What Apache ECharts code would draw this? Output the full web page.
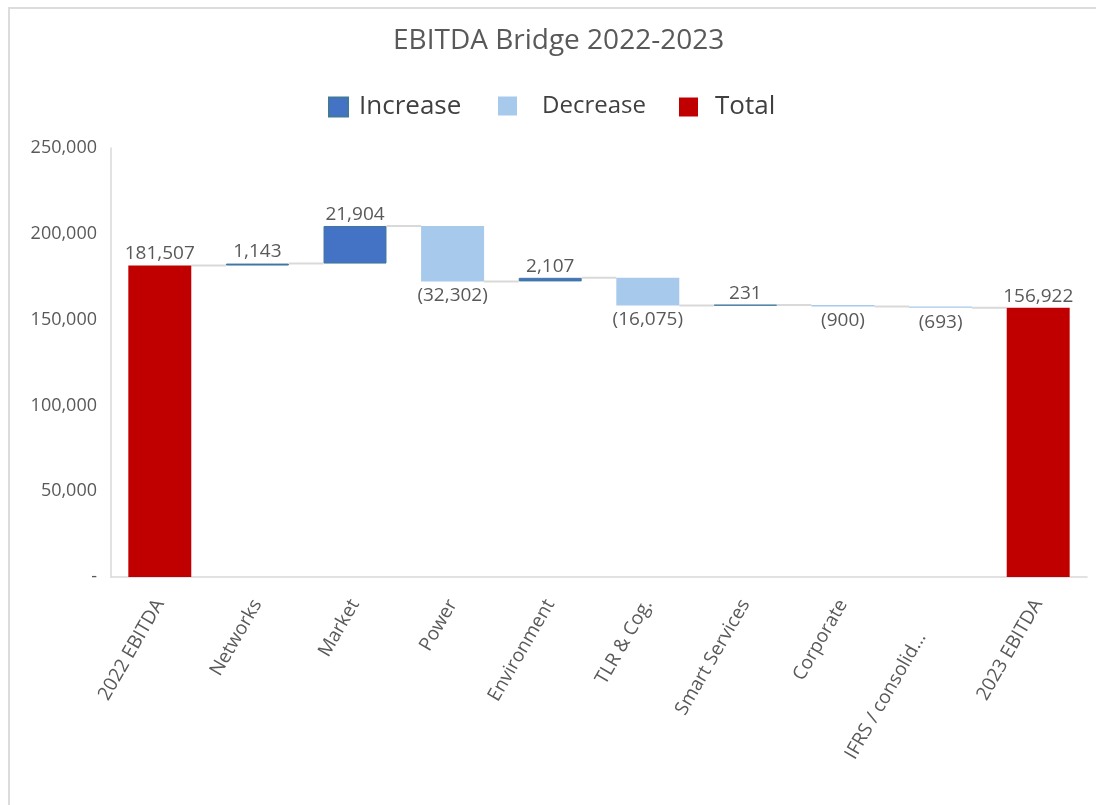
<!DOCTYPE html>
<html>
<head>
<meta charset="utf-8">
<script src="https://cdn.jsdelivr.net/npm/echarts@6/dist/echarts.min.js"></script>
<style>
  html, body { margin: 0; padding: 0; background: #ffffff; overflow: hidden; }
  #frame { position: absolute; left: 8px; top: 7px; width: 1200px; height: 900px;
           border: 2px solid #dcdcdc; box-sizing: border-box; }
  #chart { position: absolute; left: 0; top: 0; width: 1096px; height: 805px; }
</style>
</head>
<body>
<div id="frame"></div>
<div id="chart"></div>
<script>
// Bridge steps: first and last are totals, the rest are changes
const categories = ['2022 EBITDA', 'Networks', 'Market', 'Power', 'Environment',
  'TLR & Cog.', 'Smart Services', 'Corporate', 'IFRS / consolid...', '2023 EBITDA'];
const values = [181507, 1143, 21904, -32302, 2107, -16075, 231, -900, -693, 156922];
const isTotal = [true, false, false, false, false, false, false, false, false, true];
const yTicks = { min: 0, max: 250000, step: 50000 };
const legendNames = ['Increase', 'Decrease', 'Total'];

const FONT = '"Open Sans", "Noto Sans", sans-serif';
const TEXT = '#595959';

// Build the stacked pieces: invisible base + visible delta/total
const base = [], incr = [], decr = [], total = [], connectors = [];
let running = 0;
values.forEach((v, i) => {
  if (isTotal[i]) {
    base.push(0); incr.push('-'); decr.push('-'); total.push(v);
    running = v;
  } else if (v >= 0) {
    base.push(running); incr.push(v); decr.push('-'); total.push('-');
    running += v;
  } else {
    base.push(running + v); incr.push('-'); decr.push(-v); total.push('-');
    running += v;
  }
  if (i < values.length - 1) connectors.push([i, running]);
});

const fmt = n => Math.round(n).toLocaleString('en-US');
const BAR_FRAC = 0.645;

// The truncated label sits a little further down its slant
const axisItems = categories.map(c => (
  c.endsWith('...') ? { value: c, textStyle: { padding: [0, 38, 0, 0] } } : c
));

// One legend block per entry so each can sit at its own spot
const legendSpots = [
  { left: 328, size: 26, pad: [15, 0, 0, 6] },
  { left: 498, size: 24, pad: [-4, 0, 0, 20] },
  { left: 679, size: 26, pad: [1, 0, 0, 12] }
];
const legends = legendNames.map((name, k) => ({
  data: [name],
  left: legendSpots[k].left, top: 94, padding: 0,
  icon: 'rect', itemWidth: 19, itemHeight: 19,
  textStyle: {
    fontFamily: FONT, fontSize: legendSpots[k].size, color: '#404040',
    padding: legendSpots[k].pad
  }
}));

const chart = echarts.init(document.getElementById('chart'), null, { renderer: 'canvas' });
chart.setOption({
  backgroundColor: 'transparent',
  animation: false,
  textStyle: { fontFamily: FONT },
  title: {
    text: 'EBITDA Bridge 2022-2023',
    left: 393, top: 27, padding: 0,
    textStyle: { fontFamily: FONT, fontSize: 28, fontWeight: 'normal', color: TEXT }
  },
  legend: legends,
  grid: { left: 111, right: 9, top: 148, bottom: 228, containLabel: false },
  xAxis: {
    type: 'category',
    data: axisItems,
    axisLine: { lineStyle: { color: '#d9d9d9', width: 1.5 } },
    axisTick: { show: false },
    axisLabel: { rotate: 60, margin: 24, fontFamily: FONT, fontSize: 19, color: TEXT, interval: 0 }
  },
  yAxis: {
    type: 'value',
    min: yTicks.min, max: yTicks.max, interval: yTicks.step,
    axisLine: { show: true, lineStyle: { color: '#d9d9d9', width: 1.5 } },
    axisTick: { show: false },
    splitLine: { show: false },
    axisLabel: {
      margin: 14, fontFamily: FONT, fontSize: 18, color: TEXT,
      formatter: v => (v === 0 ? '-' : fmt(v))
    }
  },
  series: [
    {
      name: 'base', type: 'bar', stack: 'bridge', data: base,
      barWidth: (BAR_FRAC * 100) + '%',
      itemStyle: { color: 'transparent' }, silent: true
    },
    {
      name: 'Increase', type: 'bar', stack: 'bridge', data: incr,
      itemStyle: { color: '#4472C4', borderColor: '#41789e', borderWidth: 1 },
      label: {
        show: true, position: 'top', distance: 2,
        fontFamily: FONT, fontSize: 19, color: TEXT,
        formatter: p => fmt(p.value)
      }
    },
    {
      name: 'Decrease', type: 'bar', stack: 'bridge', data: decr,
      itemStyle: { color: '#A6C9EC' },
      label: {
        show: true, position: 'bottom', distance: 5,
        fontFamily: FONT, fontSize: 19, color: TEXT,
        formatter: p => '(' + fmt(p.value) + ')'
      }
    },
    {
      name: 'Total', type: 'bar', stack: 'bridge', data: total,
      itemStyle: { color: '#C00000' },
      label: {
        show: true, position: 'top', distance: 2,
        fontFamily: FONT, fontSize: 19, color: TEXT,
        formatter: p => fmt(p.value)
      }
    },
    {
      name: 'connector', type: 'custom', data: connectors, silent: true, z: 1,
      renderItem: (params, api) => {
        const i = api.value(0), lvl = api.value(1);
        const a = api.coord([i, lvl]);
        const b = api.coord([i + 1, lvl]);
        const half = api.size([1, 0])[0] * BAR_FRAC / 2;
        return {
          type: 'line',
          shape: { x1: a[0] + half, y1: a[1], x2: b[0] - half, y2: b[1] },
          style: { stroke: '#d9d9d9', lineWidth: 2 }
        };
      }
    }
  ]
});
</script>
</body>
</html>
